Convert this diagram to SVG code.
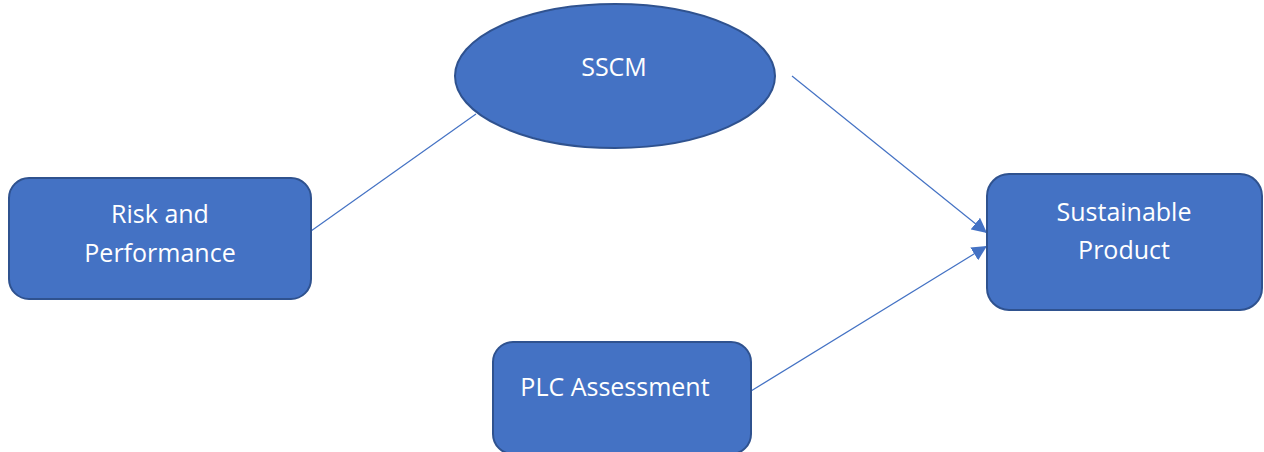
<svg xmlns="http://www.w3.org/2000/svg" width="1264" height="452" viewBox="0 0 1264 452">
  <style>
    .shape { fill: #4472C4; stroke: #2F528F; stroke-width: 2; }
    .label { fill: #FFFFFF; font-family: "Open Sans", "Noto Sans", sans-serif; font-size: 25px; text-anchor: middle; }
    .link { stroke: #4472C4; stroke-width: 1.2; fill: none; }
  </style>
  <defs>
    <marker id="arrow" viewBox="0 0 10 10" refX="10" refY="5" markerWidth="15" markerHeight="15" markerUnits="userSpaceOnUse" orient="auto">
      <path d="M0,0 L10,5 L0,10 Z" fill="#4472C4"/>
    </marker>
  </defs>
  <rect width="1264" height="452" fill="#FFFFFF"/>

  <g id="connectors">
    <line class="link" x1="311" y1="231" x2="476" y2="114"/>
    <line class="link" x1="792" y1="76" x2="987" y2="233" marker-end="url(#arrow)"/>
    <line class="link" x1="751" y1="391" x2="987" y2="246" marker-end="url(#arrow)"/>
  </g>

  <g id="node-risk">
    <rect class="shape" x="9" y="178" width="302" height="121" rx="20"/>
    <text class="label" x="160" y="223">Risk and</text>
    <text class="label" x="160" y="262">Performance</text>
  </g>

  <g id="node-sscm">
    <ellipse class="shape" cx="615" cy="76" rx="160" ry="72"/>
    <text class="label" x="614" y="76">SSCM</text>
  </g>

  <g id="node-product">
    <rect class="shape" x="987" y="174" width="275" height="136" rx="22"/>
    <text class="label" x="1124" y="221">Sustainable</text>
    <text class="label" x="1124" y="259">Product</text>
  </g>

  <g id="node-plc">
    <rect class="shape" x="493" y="342" width="258" height="112" rx="20"/>
    <text class="label" x="615" y="396">PLC Assessment</text>
  </g>
</svg>
